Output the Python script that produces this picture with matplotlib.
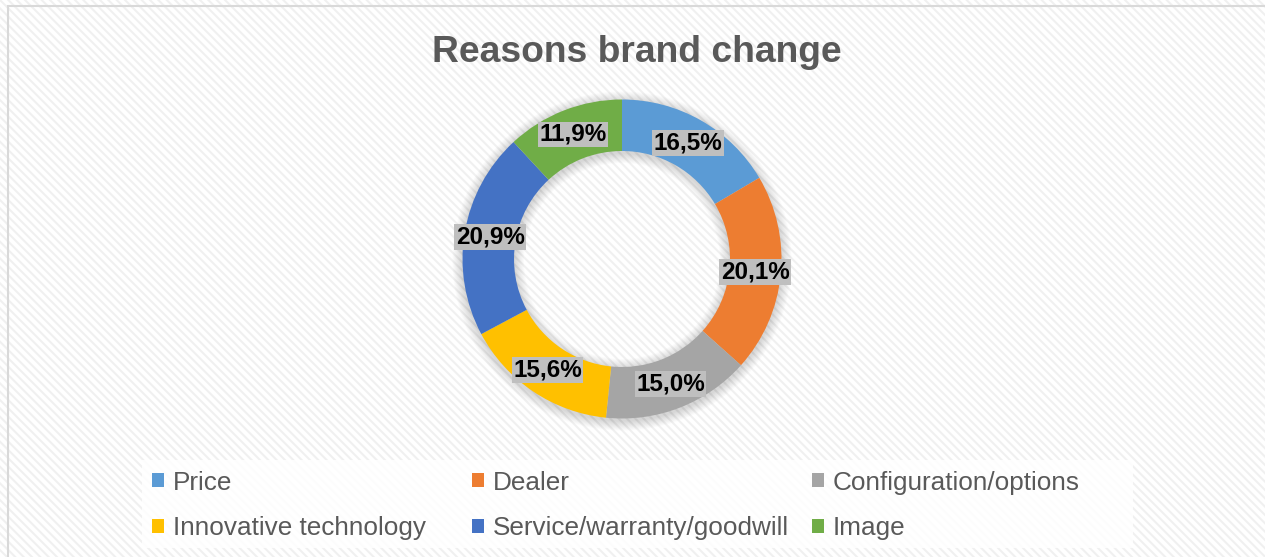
import matplotlib
matplotlib.use("Agg")
import matplotlib.pyplot as plt
from matplotlib.patches import Rectangle, Wedge

plt.rcParams['font.family'] = ['Liberation Sans', 'DejaVu Sans']
plt.rcParams['hatch.linewidth'] = 1.5

title = "Reasons brand change"
reasons = ["Price", "Dealer", "Configuration/options",
           "Innovative technology", "Service/warranty/goodwill", "Image"]
shares = [16.5, 20.1, 15.0, 15.6, 20.9, 11.9]
colors = ["#5B9BD5", "#ED7D31", "#A5A5A5", "#FFC000", "#4472C4", "#70AD47"]

W, H = 1265, 557
R_OUT, R_IN = 159.5, 108


def px(x, y, w, h):
    # pixel box with top-left origin -> figure fraction
    return [x / W, 1 - (y + h) / H, w / W, h / H]


fig = plt.figure(figsize=(W / 100, H / 100), dpi=100, facecolor="white")

# striped background + frame
fig.add_artist(Rectangle((0, 0), 1, 1, transform=fig.transFigure, facecolor="white",
                         edgecolor="#f0f0f0", hatch="\\\\\\\\", linewidth=0, zorder=-10))
fig.add_artist(Rectangle((8 / W, -0.1), 1.2, 1.1 - 6 / H, transform=fig.transFigure,
                         facecolor="none", edgecolor="#d9d9d9", linewidth=1.5, zorder=-9))
# legend panel
fig.add_artist(Rectangle(px(142, 460, 991, 88)[:2], 991 / W, 88 / H, transform=fig.transFigure,
                         facecolor="white", edgecolor="none", alpha=0.85, zorder=-8))

ax = fig.add_axes(px(622 - 200, 259 - 200, 400, 400))
ax.patch.set_alpha(0)

# soft shadow around the ring
for k in range(1, 11):
    ax.add_patch(Wedge((0, -2), R_OUT + k, 0, 360, width=(R_OUT - R_IN) + 2 * k,
                       facecolor="black", alpha=0.015, linewidth=0))

wedges, _, pcts = ax.pie(shares, colors=colors, radius=R_OUT, startangle=90, counterclock=False,
                         wedgeprops=dict(width=R_OUT - R_IN, linewidth=0),
                         autopct=lambda p: f"{p:.1f}%".replace(".", ","),
                         pctdistance=(R_OUT + R_IN) / 2 / R_OUT, frame=True)
for t in pcts:
    t.set(fontsize=17.5, fontweight="bold", color="black",
          bbox=dict(boxstyle="square,pad=0.06", fc="#bfbfbf", ec="none"))

ax.set_xlim(-200, 200)
ax.set_ylim(-200, 200)
ax.axis("off")

fig.text(637 / W, 1 - 62 / H, title, ha="center", va="baseline", fontsize=26.8,
         fontweight="bold", color="#595959")

cols_x = [152, 472, 812]
for i, x in enumerate(cols_x):
    fig.legend([wedges[i], wedges[i + 3]], [reasons[i], reasons[i + 3]], loc="center left",
               bbox_to_anchor=(x / W, 1 - 505.5 / H), frameon=False, fontsize=18.8,
               labelcolor="#595959", handlelength=0.46, handleheight=0.46,
               handletextpad=0.33, labelspacing=0.84, borderpad=0, borderaxespad=0)

fig.savefig("out.png", dpi=100)
